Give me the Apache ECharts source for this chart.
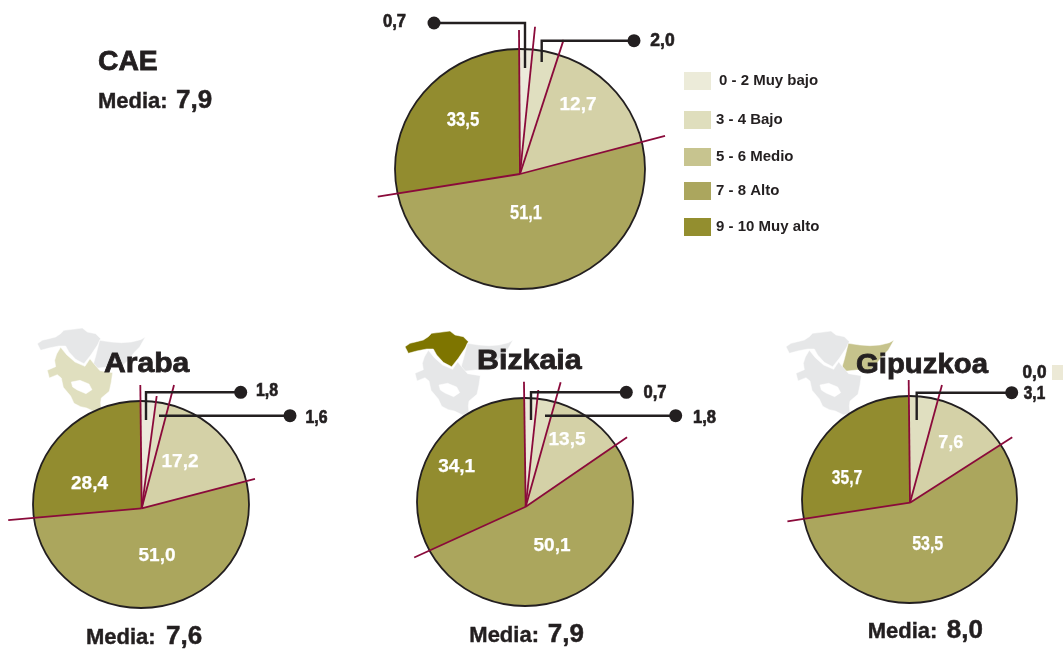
<!DOCTYPE html>
<html><head><meta charset="utf-8">
<style>html,body{margin:0;padding:0;background:#fff}#c{width:1063px;height:650px}</style>
<script src="https://cdn.jsdelivr.net/npm/echarts@6/dist/echarts.min.js"></script>
</head><body><div id="c"></div>
<script>
// ---- data ----
const levels = ['0 - 2 Muy bajo','3 - 4 Bajo','5 - 6 Medio','7 - 8 Alto','9 - 10 Muy alto'];
const regions = ['CAE','Araba','Bizkaia','Gipuzkoa'];
const means = [7.9,7.6,7.9,8.0];
// printed percentages
const printedCAE = [0.7,2.0,12.7,51.1,33.5];
const printedAraba = [1.8,1.6,17.2,51.0,28.4];
const printedBizkaia = [0.7,1.8,13.5,50.1,34.1];
const printedGipuzkoa = [0.0,3.1,7.6,53.5,35.7];
// share of the circle each slice actually occupies in the picture
const drawnCAE = [1.73,3.38,15.9,51.6,27.39];
const drawnAraba = [2.29,1.97,16.89,52.63,26.22];
const drawnBizkaia = [1.93,2.65,11.09,52.75,31.58];
const drawnGipuzkoa = [0,4.39,11.72,56.66,27.23];
// where the first slice begins, in percent of the circle
const firstEdge = [-0.11,-0.18,-0.22,-0.17];

// ---- layout and style ----
const printed = [printedCAE,printedAraba,printedBizkaia,printedGipuzkoa];
const drawn = [drawnCAE,drawnAraba,drawnBizkaia,drawnGipuzkoa];
const sliceColors = ['#eceadb','#e0dfc0','#d4d1a7','#aba65d','#928c2f'];
const legendColors = ['#ecebd9','#dfdebd','#c7c48f','#aba65e','#938e2f'];
const legendTops = [72,111,148,182,218];
const rims = [[395,49,250,240],[33,401,216,207],[417,398,216,208],[802,396,215,207]];
const hubs = [[520,174],[141.7,508.3],[525.7,506.7],[910,502.7]];
const rayLengths = [[144,148,141,150,144],[123.3,113.3,127.5,117,134],[125,117.4,129.2,122.8,122.5],[122.8,122.8,122,121.4,124]];
// x, y, font size, horizontal squeeze, dark text
const labelAt = [
 [[394.5,22,18,.92,1],[662.5,41,19,.92,1],[578,105,19,1,0],[526,213,20,.82,0],[463,120,20,.84,0]],
 [[267,391,18,.88,1],[316.5,418,18,.88,1],[180,462,19,1,0],[157,556,19,1,0],[89.5,484,19,1,0]],
 [[655,393,18,.92,1],[704.5,418,18,.92,1],[567,440,19,1,0],[552,546,19,1,0],[456.7,467,19,1,0]],
 [[1034.5,373,18,.95,1],[1034.5,394,18,.85,1],[950.7,443,19,.95,0],[927.7,544,20,.8,0],[847,478,20,.78,0]]
];
const titleAt = [[98,62,1.01],[104,364,1.075],[477,361,1.085],[856,365,1.047]];
const meanAt = [[98,176,102],[86,166,638],[469.3,547.7,636],[867.7,946.7,632]];
const leaders = [
 [[[434,23],[525,23],[525,68]],[[634,40.7],[541.7,40.7],[541.7,62]]],
 [[[240.7,392.3],[146,392.3],[146,420]],[[290,415.7],[159,415.7]]],
 [[[626.3,392.3],[531,392.3],[531,420]],[[675.7,415.7],[545,415.7]]],
 [[[1011.7,392.7],[916.7,392.7],[916.7,420]]]
];
const ink='#231f20', red='#8a0a3a', FF='"Liberation Sans",Arial,sans-serif';

const fmt = v => v.toFixed(1).replace('.',',');
function geom(api, r){
  const c = api.coord([0,0]);
  const rx = api.size([1,0])[0], ry = api.size([0,1])[1];
  const hub = hubs[r];
  const hx = hub[0]-c[0], hy = hub[1]-c[1];
  const dir = p => { const a = p/100*2*Math.PI; return [Math.sin(a),-Math.cos(a)]; };
  const rimPoint = p => {
    const d = dir(p);
    const A = d[0]*d[0]/(rx*rx)+d[1]*d[1]/(ry*ry);
    const B = 2*(hx*d[0]/(rx*rx)+hy*d[1]/(ry*ry));
    const C = hx*hx/(rx*rx)+hy*hy/(ry*ry)-1;
    const t = (-B+Math.sqrt(B*B-4*A*C))/(2*A);
    return [hub[0]+t*d[0],hub[1]+t*d[1]];
  };
  return {hub,dir,rimPoint,rx,ry,c};
}

const series = [];
regions.forEach((_,r)=>{
  let cum = firstEdge[r];
  levels.forEach((name,l)=>{
    const share = drawn[r][l];
    series.push({
      type:'custom',name,xAxisIndex:r,yAxisIndex:r,z:2,silent:true,
      itemStyle:{color:legendColors[l]},
      data:[[cum,share,printed[r][l]]],
      renderItem:(p,api)=>{
        const g = geom(api,r), start=api.value(0), sh=api.value(1);
        const children=[];
        if(sh>0){
          const pts=[g.hub];
          const steps=Math.max(2,Math.ceil(sh*2));
          for(let i=0;i<=steps;i++) pts.push(g.rimPoint(start+sh*i/steps));
          children.push({type:'polygon',shape:{points:pts},style:{fill:sliceColors[l]}});
        }
        const at=labelAt[r][l], col=at[4]?ink:'#ffffff';
        children.push({type:'text',z2:20,x:at[0],y:at[1],scaleX:at[3],style:{x:0,y:0,text:fmt(api.value(2)),
          font:'bold '+at[2]+'px '+FF,fill:col,stroke:col,lineWidth:at[4]?0.7:0.25,textAlign:'center',textVerticalAlign:'middle'}});
        return {type:'group',children};
      }
    });
    cum += share;
  });
  // circle outline
  series.push({type:'custom',xAxisIndex:r,yAxisIndex:r,z:3,silent:true,data:[[0,0]],
    renderItem:(p,api)=>{const g=geom(api,r);
      return {type:'ellipse',shape:{cx:g.c[0],cy:g.c[1],rx:g.rx,ry:g.ry},style:{fill:'none',stroke:ink,lineWidth:1.8}};}});
  // red slice edges running past the circle
  let edge = firstEdge[r];
  const rows = drawn[r].map((s,l)=>{const row=[edge,rayLengths[r][l],s]; edge+=s; return row;});
  series.push({type:'custom',xAxisIndex:r,yAxisIndex:r,z:4,silent:true,data:rows,
    renderItem:(p,api)=>{
      if(api.value(2)===0) return null;
      const g=geom(api,r), d=g.dir(api.value(0)), len=api.value(1);
      return {type:'line',shape:{x1:g.hub[0],y1:g.hub[1],x2:g.hub[0]+d[0]*len,y2:g.hub[1]+d[1]*len},
        style:{stroke:red,lineWidth:1.8}};
    }});
});

// ---- decorative maps ----
const shapeBizkaia=[[0,47],[15,37],[35,32],[55,27],[70,17],[80,7],[105,4],[135,0],[150,12],[175,17],[190,32],[180,52],[170,67],[160,82],[140,107],[115,94],[95,72],[85,54],[65,54],[35,60],[10,67],[5,57]];
const shapeGipuzkoa=[[187,37],[222,42],[252,44],[282,42],[310,35],[324,27],[307,57],[292,72],[270,100],[250,118],[212,117],[164,122],[175,85]];
const shapeAraba=[[70,58],[88,80],[113,102],[143,115],[158,92],[168,105],[188,128],[226,134],[222,162],[216,190],[192,210],[190,224],[192,246],[173,252],[148,240],[130,236],[110,226],[100,204],[78,178],[72,150],[60,140],[36,150],[30,127],[55,116],[52,97],[58,78]];
const shapeHole=[[102,162],[128,157],[155,168],[164,185],[146,197],[120,186],[106,177]];
const grey='#e6e7e8';
function mapGroup(x,y,cA,cB,cG){
  const poly=(pts,fill)=>({type:'polygon',shape:{points:pts},style:{fill,stroke:'#fff',lineWidth:1.5}});
  return {type:'group',x,y,scaleX:1/3,scaleY:1/3,z:0,children:[poly(shapeBizkaia,cB),poly(shapeGipuzkoa,cG),poly(shapeAraba,cA),poly(shapeHole,'#fff')]};
}
const graphic=[
  mapGroup(37.3,328,'#e0dfbf',grey,grey),
  mapGroup(405,331,grey,'#7e7500',grey),
  mapGroup(786,331,grey,grey,'#c6c38c'),
  {type:'rect',z:1,shape:{x:1052,y:365,width:11,height:15},style:{fill:'#ece9d6'}}
];
regions.forEach((name,r)=>{
  const tx=(x,y,text,size,sw,sx)=>({type:'text',z:10,x,y,scaleX:sx||1,style:{x:0,y:0,text,font:'bold '+size+'px '+FF,fill:ink,stroke:ink,lineWidth:sw,textVerticalAlign:'middle'}});
  graphic.push(tx(titleAt[r][0],titleAt[r][1],name,28,0.8,titleAt[r][2]));
  const m=meanAt[r];
  graphic.push(tx(m[0],m[2],'Media:',22,0.4));
  graphic.push(tx(m[1],m[2]-1,fmt(means[r]),26,0.5));
  leaders[r].forEach(pts=>{
    graphic.push({type:'polyline',z:8,shape:{points:pts},style:{fill:'none',stroke:ink,lineWidth:2.4}});
    graphic.push({type:'circle',z:8,shape:{cx:pts[0][0],cy:pts[0][1],r:6.5},style:{fill:ink}});
  });
});

const option={
  animation:false,backgroundColor:'#fff',
  grid:rims.map(b=>({left:b[0],top:b[1],width:b[2],height:b[3]})),
  xAxis:rims.map((_,i)=>({gridIndex:i,type:'value',min:-1,max:1,show:false})),
  yAxis:rims.map((_,i)=>({gridIndex:i,type:'value',min:-1,max:1,show:false})),
  legend:levels.map((name,l)=>({
    data:[{name,icon:'rect',itemStyle:{color:legendColors[l]}}],
    left:684,top:legendTops[l],padding:0,itemWidth:27,itemHeight:18,selectedMode:false,
    textStyle:{fontFamily:'Liberation Sans',fontWeight:'bold',fontSize:15,color:ink,padding:[0,0,0,l===0?3:0]}
  })),
  graphic:{elements:graphic},
  series
};
echarts.init(document.getElementById('c'),null,{renderer:'canvas'}).setOption(option);
</script></body></html>
